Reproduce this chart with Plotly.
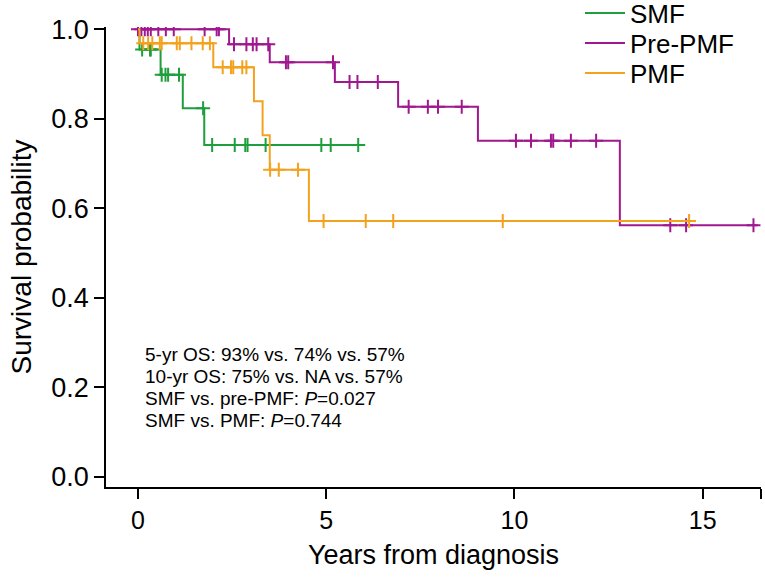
import numpy as np
import plotly.graph_objects as go

# ---- data ----
group_names = ["SMF", "Pre-PMF", "PMF"]
group_colors = ["#1E9E3C", "#A0188F", "#F4A21E"]

smf_times = [0.0, 0.04, 0.60, 1.19, 1.76]
smf_surv = [1.0, 0.9545, 0.8984, 0.8235, 0.7412]
smf_end = 5.95
smf_cens = [0.11, 0.32, 0.34, 0.63, 0.73, 0.80, 1.09, 1.73, 1.97, 2.57, 2.85,
            2.91, 3.39, 4.87, 5.12, 5.85]

pre_times = [0.0, 2.42, 3.50, 5.23, 6.91, 9.03, 12.80]
pre_surv = [1.0, 0.9667, 0.9265, 0.882, 0.827, 0.751, 0.562]
pre_end = 16.46
pre_cens = [0.0, 0.09, 0.18, 0.26, 0.34, 0.54, 0.74, 0.95, 1.77, 2.09, 2.15,
            2.55, 2.88, 3.05, 3.15, 3.46, 3.93, 3.99, 5.18, 5.62, 5.83, 6.37,
            7.19, 7.70, 7.97, 8.60, 10.04, 10.44, 10.97, 11.03, 11.50, 12.17,
            14.14, 14.56, 16.35]

pmf_times = [0.0, 0.04, 2.00, 3.08, 3.31, 3.50, 4.54]
pmf_surv = [1.0, 0.9688, 0.915, 0.839, 0.763, 0.686, 0.572]
pmf_end = 14.73
pmf_cens = [0.14, 0.27, 0.38, 0.58, 0.63, 1.03, 1.11, 1.42, 1.72, 1.91, 2.25,
            2.47, 2.53, 2.77, 2.88, 3.51, 3.74, 4.25, 4.93, 6.05, 6.78, 9.69,
            14.64]

x_tickvals = [0, 5, 10, 15, 16.55]
x_ticktext = ["0", "5", "10", "15", ""]
y_tickvals = [0.0, 0.2, 0.4, 0.6, 0.8, 1.0]
y_ticktext = ["0.0", "0.2", "0.4", "0.6", "0.8", "1.0"]

stats_lines = [
    "5-yr OS: 93% vs. 74% vs. 57%",
    "10-yr OS: 75% vs. NA vs. 57%",
    "SMF vs. pre-PMF: <i>P</i>=0.027",
    "SMF vs. PMF: <i>P</i>=0.744",
]

groups = [
    (smf_times, smf_surv, smf_end, smf_cens),
    (pre_times, pre_surv, pre_end, pre_cens),
    (pmf_times, pmf_surv, pmf_end, pmf_cens),
]

FONT = "Liberation Sans, Arial, sans-serif"
W, H = 765, 578
legend_ids = ["legend", "legend2", "legend3"]
legend_rows_px = [13, 43, 73]

fig = go.Figure()
for name, color, lid, (t, s, end, cens) in zip(group_names, group_colors,
                                               legend_ids, groups):
    fig.add_trace(go.Scatter(
        x=list(t) + [end], y=list(s) + [s[-1]],
        mode="lines", line=dict(color=color, width=2, shape="hv"),
        name=name, showlegend=True, legend=lid))
    idx = np.searchsorted(np.array(t), np.array(cens), side="right") - 1
    cy = np.array(s)[idx]
    fig.add_trace(go.Scatter(
        x=cens, y=cy, mode="markers",
        marker=dict(symbol="cross-thin", size=10,
                    line=dict(color=color, width=2)),
        showlegend=False, hoverinfo="skip"))

for i, txt in enumerate(stats_lines):
    fig.add_annotation(
        text=txt, xref="paper", yref="paper",
        x=0.0565, y=(487 - (354 + 22 * i)) / 460,
        xanchor="left", yanchor="middle", showarrow=False,
        font=dict(family=FONT, size=19, color="black"))

legend_common = dict(xref="container", yref="container", x=580 / W,
                     xanchor="left", yanchor="middle",
                     font=dict(family=FONT, size=26),
                     bgcolor="rgba(0,0,0,0)", itemwidth=40)

fig.update_layout(
    width=W, height=H,
    margin=dict(l=106, r=4, t=27, b=91, autoexpand=False),
    paper_bgcolor="white", plot_bgcolor="white",
    font=dict(family=FONT, color="black"),
    legend=dict(y=1 - legend_rows_px[0] / H, **legend_common),
    legend2=dict(y=1 - legend_rows_px[1] / H, **legend_common),
    legend3=dict(y=1 - legend_rows_px[2] / H, **legend_common),
    xaxis=dict(range=[-0.85, 16.55], tickvals=x_tickvals, ticktext=x_ticktext,
               ticks="outside", ticklen=10, tickwidth=1.5, tickcolor="black",
               showline=True, linewidth=1.5, linecolor="black",
               showgrid=False, zeroline=False, automargin=False,
               tickfont=dict(family=FONT, size=25),
               title=dict(text="Years from diagnosis",
                          font=dict(family=FONT, size=27), standoff=12)),
    yaxis=dict(range=[-0.0223, 1.005], tickvals=y_tickvals, ticktext=y_ticktext,
               ticks="outside", ticklen=10, tickwidth=1.5, tickcolor="black",
               showline=True, linewidth=1.5, linecolor="black",
               showgrid=False, zeroline=False, automargin=False,
               tickfont=dict(family=FONT, size=27),
               title=dict(text="Survival probability",
                          font=dict(family=FONT, size=28), standoff=12)),
)

fig.write_html("out.html",
               config={"displayModeBar": False},
               post_script="document.body.style.margin='0';")
